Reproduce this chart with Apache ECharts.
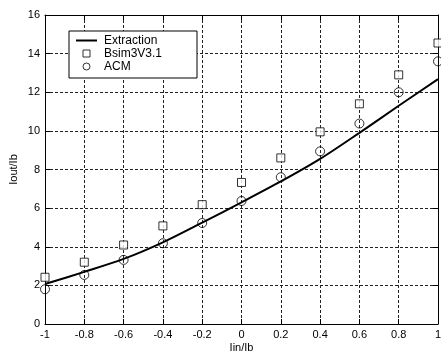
<!DOCTYPE html>
<html>
<head>
<meta charset="utf-8">
<script src="https://cdn.jsdelivr.net/npm/echarts@6/dist/echarts.min.js"></script>
<style>
  html, body { margin: 0; padding: 0; background: #fff; }
  #chart { width: 441px; height: 354px; }
</style>
</head>
<body>
<div id="chart"></div>
<script>
// x positions (Iin/Ib)
var xs = [-1, -0.8, -0.6, -0.4, -0.2, 0, 0.2, 0.4, 0.6, 0.8, 1];
// Iout/Ib values
var extraction = [2.07, 2.7, 3.37, 4.23, 5.25, 6.3, 7.38, 8.55, 9.9, 11.3, 12.68];
var bsim = [2.42, 3.2, 4.09, 5.08, 6.18, 7.33, 8.6, 9.95, 11.4, 12.9, 14.55];
var acm = [1.8, 2.54, 3.32, 4.18, 5.23, 6.37, 7.6, 8.94, 10.38, 12.0, 13.6];

function pairs(ys) {
  var out = [];
  for (var i = 0; i < xs.length; i++) out.push([xs[i], ys[i]]);
  return out;
}

var font = "'Liberation Sans', Arial, sans-serif";
var chart = echarts.init(document.getElementById('chart'));

var tickIn = { show: true, inside: true, length: 5, lineStyle: { color: '#000' } };
var axLine = { show: true, onZero: false, lineStyle: { color: '#000', width: 1 } };
var grid = { show: true, lineStyle: { color: '#222', type: [3, 2], width: 1 } };

chart.setOption({
  animation: false,
  backgroundColor: '#fff',
  grid: { left: 45, right: 3, top: 15, bottom: 30, outerBoundsMode: 'none', containLabel: false },
  xAxis: [
    {
      type: 'value', min: -1, max: 1, interval: 0.2,
      name: 'Iin/Ib', nameLocation: 'middle', nameGap: 18, nameMoveOverlap: false,
      nameTextStyle: { color: '#000', fontSize: 11, fontFamily: font },
      axisLine: axLine, axisTick: tickIn, splitLine: grid,
      axisLabel: {
        color: '#000', fontSize: 11, fontFamily: font, margin: 5,
        formatter: function (v) { return String(+v.toFixed(1)); }
      }
    },
    {
      type: 'value', min: -1, max: 1, interval: 0.2, position: 'top',
      axisLine: axLine, axisTick: tickIn, splitLine: { show: false },
      axisLabel: { show: false }
    }
  ],
  yAxis: [
    {
      type: 'value', min: 0, max: 16, interval: 2,
      name: 'Iout/Ib', nameLocation: 'middle', nameGap: 26, nameRotate: 90, nameMoveOverlap: false,
      nameTextStyle: { color: '#000', fontSize: 11, fontFamily: font },
      axisLine: axLine, axisTick: tickIn, splitLine: grid,
      axisLabel: { color: '#000', fontSize: 11, fontFamily: font, margin: 5 }
    },
    {
      type: 'value', min: 0, max: 16, interval: 2, position: 'right',
      axisLine: axLine, axisTick: tickIn, splitLine: { show: false },
      axisLabel: { show: false }
    }
  ],
  graphic: [
    {
      type: 'rect', z: 3,
      shape: { x: 69, y: 31, width: 128, height: 47 },
      style: { fill: '#fff', stroke: '#000', lineWidth: 1 }
    }
  ],
  legend: {
    show: true, orient: 'vertical', left: 76, top: 34, padding: 0, z: 10,
    itemWidth: 21, itemHeight: 7, itemGap: 0, symbolKeepAspect: true,
    textStyle: { color: '#000', fontSize: 12, lineHeight: 13, fontFamily: font, padding: [0, 0, 0, 2] },
    data: [
      { name: 'Extraction', icon: 'path://M0,0L21,0L21,2L0,2Z',
        itemStyle: { color: '#000', borderWidth: 0 } },
      { name: 'Bsim3V3.1', icon: 'path://M0,0L8,0L8,8L0,8Z',
        itemStyle: { color: '#fff', borderColor: '#000', borderWidth: 1 } },
      { name: 'ACM', icon: 'circle',
        itemStyle: { color: '#fff', borderColor: '#000', borderWidth: 1 } }
    ]
  },
  series: [
    {
      name: 'Extraction', type: 'line', symbol: 'none', smooth: 0.3,
      lineStyle: { color: '#000', width: 2 }, itemStyle: { color: '#000' },
      data: pairs(extraction), z: 2
    },
    {
      name: 'Bsim3V3.1', type: 'scatter', symbol: 'rect', symbolSize: 8,
      itemStyle: { color: '#fff', borderColor: '#000', borderWidth: 1 },
      data: pairs(bsim), z: 3
    },
    {
      name: 'ACM', type: 'scatter', symbol: 'circle', symbolSize: 9,
      itemStyle: { color: 'rgba(255,255,255,0)', borderColor: '#000', borderWidth: 1 },
      data: pairs(acm), z: 3
    }
  ]
});
</script>
</body>
</html>
